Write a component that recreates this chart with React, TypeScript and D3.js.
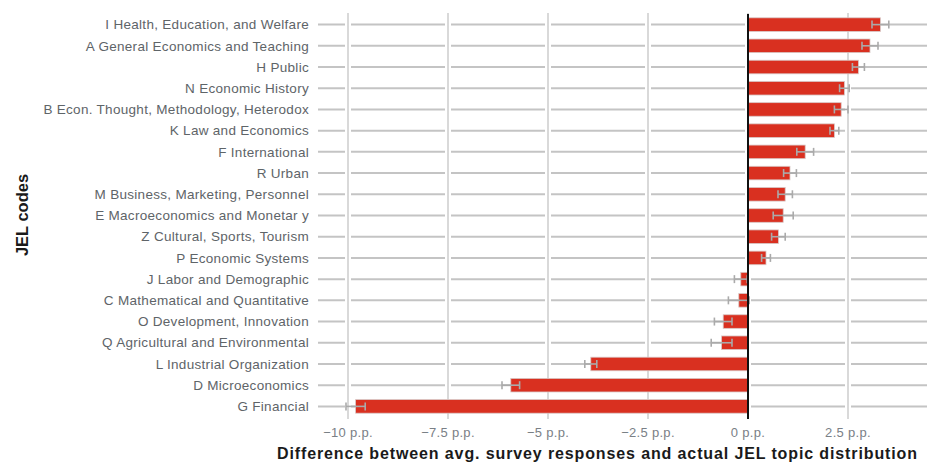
import React from "react";
import * as d3 from "d3";

const categories = [
  "I Health, Education, and Welfare",
  "A General Economics and Teaching",
  "H Public",
  "N Economic History",
  "B Econ. Thought, Methodology, Heterodox",
  "K Law and Economics",
  "F International",
  "R Urban",
  "M Business, Marketing, Personnel",
  "E Macroeconomics and Monetar y",
  "Z Cultural, Sports, Tourism",
  "P Economic Systems",
  "J Labor and Demographic",
  "C Mathematical and Quantitative",
  "O Development, Innovation",
  "Q Agricultural and Environmental",
  "L Industrial Organization",
  "D Microeconomics",
  "G Financial",
];

const values = [3.31, 3.05, 2.76, 2.41, 2.33, 2.16, 1.43, 1.05, 0.93, 0.88, 0.76, 0.45, -0.18, -0.23, -0.62, -0.66, -3.93, -5.93, -9.81];
const errors = [0.21, 0.2, 0.15, 0.12, 0.17, 0.11, 0.21, 0.16, 0.18, 0.25, 0.17, 0.11, 0.16, 0.26, 0.22, 0.26, 0.15, 0.22, 0.24];

const xTicks = [-10, -7.5, -5, -2.5, 0, 2.5];
const xTickLabel = (v: number) => `${v < 0 ? "\u2212" : ""}${Math.abs(v)} p.p.`;

const xTitle = "Difference between avg. survey responses and actual JEL topic distribution";
const yTitle = "JEL codes";

const W = 927;
const H = 463;
const FONT = "'Liberation Sans', Arial, sans-serif";

export default function App() {
  const x = d3.scaleLinear().domain([-10.7, 4.45]).range([320, 926]);
  const y = d3.scaleBand<string>().domain(categories).range([14, 417]).padding(0);
  const bw = y.bandwidth();
  const barH = bw * 0.64;
  const gridTop = 13;
  const gridBottom = 419;

  return (
    <svg width={W} height={H} style={{ position: "absolute", left: 0, top: 0, background: "#fff" }}>
      {/* horizontal gridlines */}
      {categories.map((c) => {
        const cy = y(c)! + bw / 2;
        return <line key={"h" + c} x1={318} x2={W} y1={cy} y2={cy} stroke="#c4c4c4" strokeWidth={2} />;
      })}
      {/* vertical gridlines with white halo */}
      {xTicks.map((t) => (
        <g key={"v" + t}>
          <line x1={x(t)} x2={x(t)} y1={gridTop} y2={gridBottom} stroke="#fff" strokeWidth={6} />
          <line x1={x(t)} x2={x(t)} y1={gridTop} y2={gridBottom} stroke="#d0d0d0" strokeWidth={1.6} />
        </g>
      ))}
      {/* bars */}
      {categories.map((c, i) => {
        const v = values[i];
        const cy = y(c)! + bw / 2;
        const x0 = x(Math.min(0, v));
        const x1 = x(Math.max(0, v));
        return (
          <rect
            key={"b" + c}
            x={x0}
            y={cy - barH / 2}
            width={x1 - x0}
            height={barH}
            fill="#d93020"
            stroke="#d8c8c6"
            strokeWidth={0.8}
          />
        );
      })}
      {/* error bars */}
      {categories.map((c, i) => {
        const v = values[i];
        const e = errors[i];
        const cy = y(c)! + bw / 2;
        const lo = x(v - e);
        const hi = x(v + e);
        const cap = 4;
        return (
          <g key={"e" + c} stroke="#aaaaaa" strokeWidth={1.6} fill="none">
            <line x1={lo} x2={hi} y1={cy} y2={cy} />
            <line x1={lo} x2={lo} y1={cy - cap} y2={cy + cap} />
            <line x1={hi} x2={hi} y1={cy - cap} y2={cy + cap} />
          </g>
        );
      })}
      {/* zero line */}
      <line x1={x(0)} x2={x(0)} y1={14} y2={gridBottom} stroke="#111" strokeWidth={2} />
      {/* y labels */}
      {categories.map((c) => (
        <text
          key={"l" + c}
          x={309}
          y={y(c)! + bw / 2}
          dy="0.35em"
          textAnchor="end"
          fontFamily={FONT}
          fontSize={13.5}
          letterSpacing={0.3}
          fill="#5e6468"
        >
          {c}
        </text>
      ))}
      {/* x tick labels */}
      {xTicks.map((t) => (
        <text
          key={"t" + t}
          x={x(t)}
          y={432}
          dy="0.35em"
          textAnchor="middle"
          fontFamily={FONT}
          fontSize={13}
          letterSpacing={0.3}
          fill="#7a8086"
        >
          {xTickLabel(t)}
        </text>
      ))}
      {/* axis titles */}
      <text
        x={597}
        y={453}
        dy="0.35em"
        textAnchor="middle"
        fontFamily={FONT}
        fontWeight="bold"
        fontSize={16}
        fill="#1a1a1a"
        textLength={640}
        lengthAdjust="spacing"
      >
        {xTitle}
      </text>
      <text
        transform={`translate(22,215) rotate(-90)`}
        dy="0.35em"
        textAnchor="middle"
        fontFamily={FONT}
        fontWeight="bold"
        fontSize={16.5}
        fill="#1a1a1a"
      >
        {yTitle}
      </text>
    </svg>
  );
}
